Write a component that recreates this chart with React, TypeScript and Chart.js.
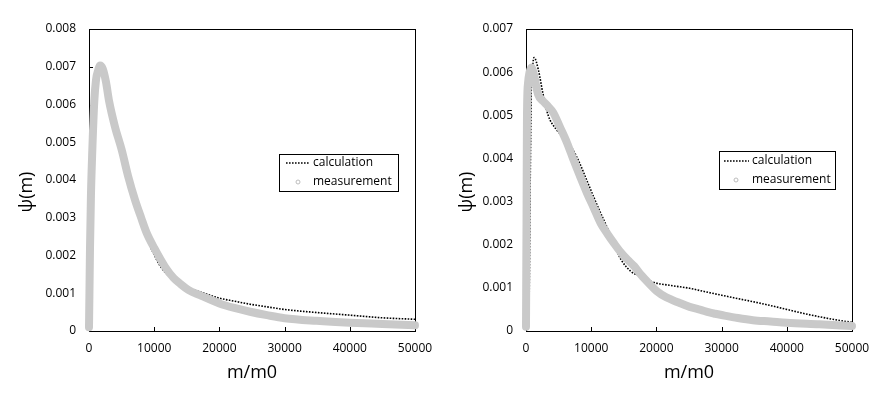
import React, { useEffect, useRef } from "react";
import { Chart, registerables } from "chart.js";

Chart.register(...registerables);

// ---------- data ----------
const xTicks = [0, 10000, 20000, 30000, 40000, 50000];

const leftMeasX = [0, 60, 150, 300, 510, 815, 1075, 1400, 1700, 2100, 2600, 3070, 4000, 5010, 6000, 7060, 8000, 8840, 10000, 11660, 13000, 14000, 15230, 17000, 20000, 22300, 24700, 27300, 30000, 34900, 40000, 45000, 50000];
const leftMeasY = [0.0001, 0.0009, 0.00215, 0.0036, 0.0048, 0.0061, 0.00665, 0.0069, 0.00703, 0.00695, 0.0066, 0.0061, 0.0054, 0.0048, 0.0041, 0.00347, 0.003, 0.0026, 0.0022, 0.0017, 0.0014, 0.00125, 0.00109, 0.00095, 0.00073, 0.00061, 0.00051, 0.00042, 0.00034, 0.00027, 0.00022, 0.000185, 0.00015];

const leftCalcX = [0, 60, 150, 300, 510, 815, 1075, 1400, 1800, 2300, 3100, 4000, 5000, 6000, 7000, 8000, 9000, 10000, 11000, 12500, 14000, 15500, 17000, 20000, 22300, 24700, 27300, 30000, 34900, 40000, 45000, 50000];
const leftCalcY = [0.0001, 0.0009, 0.00215, 0.0036, 0.0048, 0.0061, 0.00665, 0.0069, 0.00708, 0.00695, 0.0063, 0.0056, 0.0049, 0.0042, 0.0035, 0.0029, 0.0024, 0.00202, 0.0017, 0.00142, 0.00124, 0.00112, 0.00104, 0.00087, 0.00079, 0.00071, 0.00064, 0.00057, 0.00049, 0.00042, 0.00035, 0.00031];

const rightMeasX = [0, 80, 150, 310, 550, 830, 1200, 1860, 2600, 3300, 4190, 5230, 6300, 7300, 8300, 9370, 10400, 11440, 12500, 13510, 14500, 15580, 16600, 17650, 19200, 20000, 21500, 23400, 25100, 26800, 28100, 29000, 30000, 32500, 34800, 37500, 40000, 45000, 50000];
const rightMeasY = [0.0001, 0.0025, 0.00497, 0.00574, 0.006, 0.00611, 0.00595, 0.00548, 0.00533, 0.00522, 0.00506, 0.00472, 0.00436, 0.00396, 0.00358, 0.00319, 0.00285, 0.0025, 0.00225, 0.00203, 0.00183, 0.00165, 0.0015, 0.0013, 0.00105, 0.00093, 0.00078, 0.00066, 0.00056, 0.00049, 0.00043, 0.0004, 0.00037, 0.0003, 0.00025, 0.00022, 0.00019, 0.000155, 0.000115];

const rightCalcX = [0, 450, 650, 800, 1000, 1250, 1900, 2600, 3400, 4600, 5900, 7200, 8200, 9300, 10400, 11400, 12500, 13500, 14600, 16100, 17700, 19500, 22000, 25100, 27500, 30000, 32500, 34800, 37500, 40000, 42500, 45000, 47500, 50000];
const rightCalcY = [0, 0.0005, 0.0035, 0.0055, 0.0061, 0.00634, 0.00605, 0.0055, 0.005, 0.00468, 0.00447, 0.0042, 0.0039, 0.0035, 0.0031, 0.00275, 0.00238, 0.002, 0.00165, 0.00138, 0.00126, 0.00113, 0.00106, 0.00099, 0.00091, 0.00083, 0.00075, 0.00068, 0.00059, 0.0005, 0.00041, 0.00033, 0.00026, 0.0002];

const seriesNames = ["calculation", "measurement"];
const xTitle = "m/m0";
const yTitle = "ψ(m)";

// ---------- styling ----------
const FONT = "'Open Sans', 'Noto Sans', sans-serif";
const MEAS_COLOR = "#c9c9c9";

type PanelCfg = {
  calcX: number[];
  calcY: number[];
  measX: number[];
  measY: number[];
  yMax: number;
  yAxisWidth: number;
  padRight: number;
  yTitleX: number;
  legend: { x: number; y: number; w: number; h: number; lineX1: number; lineX2: number; textX: number; row1: number; row2: number; circleX: number };
};

const toPts = (xs: number[], ys: number[]) => xs.map((x, i) => ({ x, y: ys[i] }));

function makeChart(canvas: HTMLCanvasElement, p: PanelCfg) {
  const framePlugin = {
    id: "frameTicks",
    beforeDatasetsDraw(chart: any) {
      const { ctx, chartArea } = chart;
      const { left, right, top, bottom } = chartArea;
      ctx.save();
      ctx.strokeStyle = "#000";
      ctx.lineWidth = 1;
      ctx.strokeRect(Math.round(left) + 0.5, Math.round(top) + 0.5, Math.round(right) - Math.round(left), Math.round(bottom) - Math.round(top));
      const xs = chart.scales.x;
      const ys = chart.scales.y;
      ctx.beginPath();
      xs.ticks.forEach((t: any) => {
        const px = Math.round(xs.getPixelForValue(t.value)) + 0.5;
        ctx.moveTo(px, Math.round(bottom));
        ctx.lineTo(px, Math.round(bottom) - 4);
      });
      ys.ticks.forEach((t: any) => {
        const py = Math.round(ys.getPixelForValue(t.value)) + 0.5;
        ctx.moveTo(Math.round(left), py);
        ctx.lineTo(Math.round(left) + 4, py);
      });
      ctx.stroke();
      ctx.restore();
    },
    afterDraw(chart: any) {
      const { ctx, chartArea } = chart;
      ctx.save();
      // axis titles
      ctx.fillStyle = "#000";
      ctx.font = `18px ${FONT}`;
      ctx.textAlign = "center";
      ctx.textBaseline = "middle";
      ctx.fillText(xTitle, (chartArea.left + chartArea.right) / 2, 373);
      ctx.save();
      ctx.translate(p.yTitleX, 192);
      ctx.rotate(-Math.PI / 2);
      ctx.fillText(yTitle, 0, 0);
      ctx.restore();
      // legend
      const L = p.legend;
      ctx.fillStyle = "#fff";
      ctx.fillRect(L.x, L.y, L.w, L.h);
      ctx.strokeStyle = "#000";
      ctx.lineWidth = 1;
      ctx.strokeRect(L.x + 0.5, L.y + 0.5, L.w, L.h);
      ctx.beginPath();
      ctx.setLineDash([1.6, 1.4]);
      ctx.lineWidth = 1.6;
      ctx.moveTo(L.lineX1, L.row1);
      ctx.lineTo(L.lineX2, L.row1);
      ctx.stroke();
      ctx.setLineDash([]);
      ctx.beginPath();
      ctx.lineWidth = 1;
      ctx.strokeStyle = "#bdbdbd";
      ctx.arc(L.circleX, L.row2, 2, 0, Math.PI * 2);
      ctx.stroke();
      ctx.fillStyle = "#000";
      ctx.font = `12px ${FONT}`;
      ctx.textAlign = "left";
      ctx.textBaseline = "middle";
      ctx.fillText(seriesNames[0], L.textX, L.row1);
      ctx.fillText(seriesNames[1], L.textX, L.row2);
      ctx.restore();
    },
  };

  return new Chart(canvas, {
    type: "line",
    data: {
      datasets: [
        {
          label: seriesNames[1],
          data: toPts(p.measX, p.measY),
          borderColor: MEAS_COLOR,
          borderWidth: 8,
          borderCapStyle: "round",
          borderJoinStyle: "round",
          pointRadius: 0,
          fill: false,
          clip: false,
          cubicInterpolationMode: "monotone",
        },
        {
          label: seriesNames[0],
          data: toPts(p.calcX, p.calcY),
          borderColor: "#000",
          borderWidth: 1.6,
          borderDash: [1.6, 1.4],
          pointRadius: 0,
          fill: false,
          cubicInterpolationMode: "monotone",
        },
      ],
    } as any,
    options: {
      animation: false,
      responsive: false,
      maintainAspectRatio: false,
      devicePixelRatio: 1,
      layout: { padding: { top: 29, right: p.padRight, bottom: 0, left: 0 } },
      plugins: { legend: { display: false }, tooltip: { enabled: false }, title: { display: false } },
      scales: {
        x: {
          type: "linear",
          min: 0,
          max: 50000,
          afterFit: (s: any) => { s.height = 68; },
          afterBuildTicks: (s: any) => { s.ticks = xTicks.map((v) => ({ value: v })); },
          ticks: {
            font: { family: FONT, size: 12 },
            color: "#000",
            padding: 10,
            maxRotation: 0,
            callback: (v: any) => String(v),
          },
          grid: { display: false, drawTicks: false },
          border: { display: false },
        },
        y: {
          type: "linear",
          min: 0,
          max: p.yMax,
          afterFit: (s: any) => { s.width = p.yAxisWidth; },
          ticks: {
            stepSize: 0.001,
            font: { family: FONT, size: 12 },
            color: "#000",
            padding: 13,
            callback: (v: any) => (Math.abs(v) < 1e-12 ? "0" : Number(v).toFixed(3)),
          },
          grid: { display: false, drawTicks: false },
          border: { display: false },
        },
      },
    } as any,
    plugins: [framePlugin],
  });
}

const leftPanel: PanelCfg = {
  calcX: leftCalcX,
  calcY: leftCalcY,
  measX: leftMeasX,
  measY: leftMeasY,
  yMax: 0.008,
  yAxisWidth: 89,
  padRight: 32,
  yTitleX: 27,
  legend: { x: 279, y: 154, w: 119, h: 37, lineX1: 286, lineX2: 310, textX: 313, row1: 163, row2: 182, circleX: 298 },
};

const rightPanel: PanelCfg = {
  calcX: rightCalcX,
  calcY: rightCalcY,
  measX: rightMeasX,
  measY: rightMeasY,
  yMax: 0.007,
  yAxisWidth: 79,
  padRight: 42,
  yTitleX: 20,
  legend: { x: 272, y: 151, w: 116, h: 38, lineX1: 277, lineX2: 302, textX: 305, row1: 161, row2: 180, circleX: 289 },
};

function Panel({ cfg, left }: { cfg: PanelCfg; left: number }) {
  const ref = useRef<HTMLCanvasElement | null>(null);
  useEffect(() => {
    if (!ref.current) return;
    const chart = makeChart(ref.current, cfg);
    return () => chart.destroy();
  }, [cfg]);
  return (
    <div style={{ position: "absolute", left, top: 0, width: 447, height: 399 }}>
      <canvas ref={ref} width={447} height={399} style={{ width: 447, height: 399, display: "block" }} />
    </div>
  );
}

export default function App() {
  return (
    <div style={{ position: "fixed", left: 0, top: 0, width: 894, height: 399, background: "#fff", overflow: "hidden" }}>
      <Panel cfg={leftPanel} left={0} />
      <Panel cfg={rightPanel} left={447} />
    </div>
  );
}
